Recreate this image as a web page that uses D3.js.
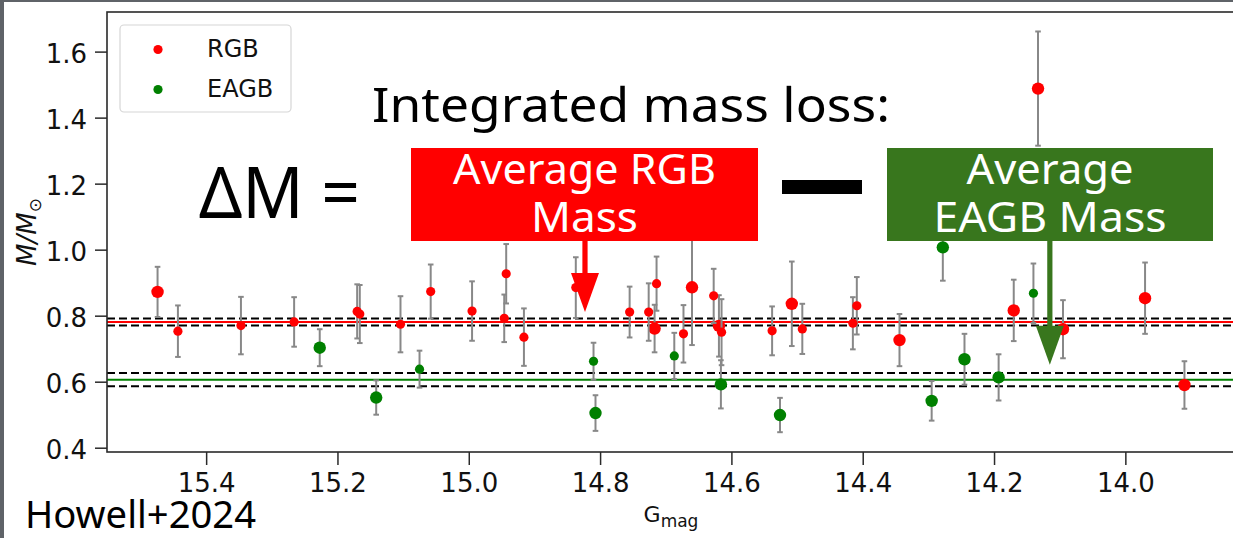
<!DOCTYPE html>
<html>
<head>
<meta charset="utf-8">
<script src="https://cdn.jsdelivr.net/npm/d3@7"></script>
<style>
  html, body { margin: 0; padding: 0; background: #fff; overflow: hidden; }
  svg { display: block; }
</style>
</head>
<body>
<svg id="chart" width="1233" height="538"></svg>
<script>
// ---- data: [G magnitude, mass (Msun), 1-sigma mass error] ----
// catalogue 1 (drawn with larger markers)
const rgbSet1 = [
  [15.474, 0.872, 0.076], [14.717, 0.761, 0.072], [14.660, 0.886, 0.175],
  [14.619, 0.769, 0.093], [14.508, 0.836, 0.128], [14.344, 0.726, 0.079],
  [14.170, 0.816, 0.093], [14.133, 1.488, 0.173], [14.095, 0.759, 0.088],
  [13.970, 0.853, 0.108], [13.910, 0.590, 0.072]
];
// catalogue 2 (drawn with smaller markers)
const rgbSet2 = [
  [15.443, 0.753, 0.078], [15.347, 0.770, 0.087], [15.266, 0.781, 0.075],
  [15.170, 0.813, 0.082], [15.166, 0.805, 0.088], [15.104, 0.774, 0.085],
  [15.058, 0.873, 0.082], [14.995, 0.814, 0.090], [14.946, 0.792, 0.072],
  [14.943, 0.927, 0.090], [14.916, 0.735, 0.087], [14.837, 0.885, 0.092],
  [14.755, 0.811, 0.077], [14.726, 0.811, 0.087], [14.714, 0.897, 0.082],
  [14.673, 0.745, 0.087], [14.627, 0.860, 0.082], [14.615, 0.750, 0.100],
  [14.538, 0.754, 0.074], [14.492, 0.760, 0.076], [14.415, 0.777, 0.079],
  [14.409, 0.830, 0.087]
];
const eagbSet1 = [
  [15.227, 0.703, 0.056], [15.141, 0.552, 0.052], [14.807, 0.505, 0.054],
  [14.616, 0.592, 0.073], [14.526, 0.499, 0.052], [14.295, 0.542, 0.060],
  [14.278, 1.007, 0.101], [14.245, 0.668, 0.077], [14.193, 0.613, 0.070]
];
const eagbSet2 = [
  [15.075, 0.638, 0.056], [14.810, 0.662, 0.056], [14.687, 0.678, 0.070],
  [14.140, 0.868, 0.090]
];

// weighted means and their uncertainties
const rgbMean = 0.781, rgbMeanErr = 0.0106;
const eagbMean = 0.606, eagbMeanErr = 0.020;

// axis ticks
const xTicks = [15.4, 15.2, 15.0, 14.8, 14.6, 14.4, 14.2, 14.0];
const yTicks = [0.4, 0.6, 0.8, 1.0, 1.2, 1.4, 1.6];
const legendLabels = ["RGB", "EAGB"];

// ---- layout ----
const W = 1233, H = 538;
const plot = { left: 107, right: 1235, top: 12, bottom: 452 };

const svg = d3.select("#chart");
svg.append("rect").attr("width", W).attr("height", H).attr("fill", "#fff");

const x = d3.scaleLinear().domain([15.551, 13.833]).range([plot.left, plot.right]);
const y = d3.scaleLinear().domain([0.387, 1.72]).range([plot.bottom, plot.top]);

const red = "#ff0000", green = "#008000";

// ---- mean lines with dashed uncertainty bands ----
const lines = svg.append("g");
function hline(v, color, dashed) {
  lines.append("line")
    .attr("x1", plot.left).attr("x2", plot.right)
    .attr("y1", y(v)).attr("y2", y(v))
    .attr("stroke", color).attr("stroke-width", 2)
    .attr("stroke-dasharray", dashed ? "8,4" : null);
}
hline(rgbMean, red, false);
hline(rgbMean + rgbMeanErr, "#000", true);
hline(rgbMean - rgbMeanErr, "#000", true);
hline(eagbMean, green, false);
hline(eagbMean + eagbMeanErr, "#000", true);
hline(eagbMean - eagbMeanErr, "#000", true);

// ---- error bars and points ----
const series = [
  { data: rgbSet1, color: red, r: 6.2 },
  { data: rgbSet2, color: red, r: 4.6 },
  { data: eagbSet1, color: green, r: 6.2 },
  { data: eagbSet2, color: green, r: 4.6 }
];
const pts = svg.append("g");
const capHalf = 2.8;
series.forEach(s => {
  const g = pts.append("g");
  const eb = g.selectAll("g.eb").data(s.data).join("g").attr("class", "eb")
    .attr("stroke", "#888").attr("stroke-width", 2);
  eb.append("line")
    .attr("x1", d => x(d[0])).attr("x2", d => x(d[0]))
    .attr("y1", d => y(d[1] - d[2])).attr("y2", d => y(d[1] + d[2]));
  eb.append("line")
    .attr("x1", d => x(d[0]) - capHalf).attr("x2", d => x(d[0]) + capHalf)
    .attr("y1", d => y(d[1] + d[2])).attr("y2", d => y(d[1] + d[2]));
  eb.append("line")
    .attr("x1", d => x(d[0]) - capHalf).attr("x2", d => x(d[0]) + capHalf)
    .attr("y1", d => y(d[1] - d[2])).attr("y2", d => y(d[1] - d[2]));
  g.selectAll("circle").data(s.data).join("circle")
    .attr("cx", d => x(d[0])).attr("cy", d => y(d[1]))
    .attr("r", s.r).attr("fill", s.color);
});

// ---- axes ----
const spineColor = "#2a2a2a";
const yAxis = d3.axisLeft(y).tickValues(yTicks).tickFormat(d3.format(".1f"))
  .tickSize(12).tickPadding(8);
const gY = svg.append("g").attr("transform", `translate(${plot.left},0)`).call(yAxis);
gY.select(".domain").remove();
gY.attr("font-family", "DejaVu Sans").attr("font-size", 26);
gY.selectAll(".tick line").attr("stroke", spineColor).attr("stroke-width", 1.5);
gY.selectAll(".tick text").attr("fill", "#111").attr("dy", "0.4em");

const xAxis = d3.axisBottom(x).tickValues(xTicks).tickFormat(d3.format(".1f"))
  .tickSize(13).tickPadding(8.5);
const gX = svg.append("g").attr("transform", `translate(0,${plot.bottom})`).call(xAxis);
gX.select(".domain").remove();
gX.attr("font-family", "DejaVu Sans").attr("font-size", 26);
gX.selectAll(".tick line").attr("stroke", spineColor).attr("stroke-width", 1.5);
gX.selectAll(".tick text").attr("fill", "#111");

// frame
svg.append("rect")
  .attr("x", plot.left).attr("y", plot.top)
  .attr("width", plot.right - plot.left).attr("height", plot.bottom - plot.top)
  .attr("fill", "none").attr("stroke", spineColor).attr("stroke-width", 1.6);

// axis titles
const yl = svg.append("text")
  .attr("transform", `translate(36,${(plot.top + plot.bottom) / 2}) rotate(-90)`)
  .attr("text-anchor", "middle")
  .attr("font-family", "DejaVu Sans").attr("font-size", 26).attr("fill", "#111");
yl.append("tspan").attr("font-style", "italic").text("M/M");
yl.append("tspan").attr("font-size", 17).attr("dy", 5).text("\u2299");

const xl = svg.append("text")
  .attr("x", (plot.left + plot.right) / 2).attr("y", 522)
  .attr("text-anchor", "middle")
  .attr("font-family", "DejaVu Sans").attr("font-size", 22).attr("fill", "#111");
xl.append("tspan").text("G");
xl.append("tspan").attr("font-size", 17).attr("dy", 5).text("mag");

// ---- legend ----
const leg = svg.append("g");
leg.append("rect").attr("x", 120).attr("y", 25).attr("width", 171).attr("height", 87)
  .attr("rx", 4).attr("fill", "#fff").attr("fill-opacity", 0.85)
  .attr("stroke", "#d6d6d6").attr("stroke-width", 1.2);
[red, green].forEach((c, i) => {
  leg.append("circle").attr("cx", 158).attr("cy", 49.5 + i * 40).attr("r", 4.6).attr("fill", c);
  leg.append("text").attr("x", 207).attr("y", 57 + i * 40)
    .attr("font-family", "DejaVu Sans").attr("font-size", 24).attr("fill", "#111")
    .text(legendLabels[i]);
});

// ---- slide annotations ----
const ann = svg.append("g").attr("font-family", "Noto Sans, Lato, sans-serif");
function fitText(parent, txt, xPos, yPos, size, len, fill, anchor) {
  return parent.append("text")
    .attr("x", xPos).attr("y", yPos)
    .attr("font-size", size).attr("fill", fill)
    .attr("text-anchor", anchor || "start")
    .attr("textLength", len).attr("lengthAdjust", "spacingAndGlyphs")
    .text(txt);
}
fitText(ann, "Integrated mass loss:", 372, 122, 47, 518, "#000");
fitText(ann, "\u0394M =", 199, 218, 72, 161, "#000");

// minus sign
ann.append("rect").attr("x", 782).attr("y", 180).attr("width", 80).attr("height", 14).attr("fill", "#000");

// arrows: shaft from the box down to a head pointing at the plotted level
function arrow(color, boxBottom, gx, gv) {
  const tipX = x(gx), tipY = y(gv);
  const headLen = 39, headHalf = 14, shaftHalf = 2.6;
  ann.append("rect")
    .attr("x", tipX - shaftHalf).attr("y", boxBottom - 1)
    .attr("width", shaftHalf * 2).attr("height", tipY - headLen - boxBottom + 2)
    .attr("fill", color);
  ann.append("path")
    .attr("d", `M${tipX - headHalf},${tipY - headLen}L${tipX + headHalf},${tipY - headLen}L${tipX},${tipY}Z`)
    .attr("fill", color);
}

// red box
ann.append("rect").attr("x", 411).attr("y", 148).attr("width", 347).attr("height", 93).attr("fill", red);
fitText(ann, "Average RGB", 584.5, 184, 42, 263, "#fff", "middle");
fitText(ann, "Mass", 584.5, 232, 42, 107, "#fff", "middle");
arrow(red, 241, 14.823, 0.811);

// green box
const dkGreen = "#38761d";
ann.append("rect").attr("x", 887).attr("y", 148).attr("width", 326).attr("height", 93).attr("fill", dkGreen);
fitText(ann, "Average", 1050, 184, 42, 167, "#fff", "middle");
fitText(ann, "EAGB Mass", 1050, 232, 42, 233, "#fff", "middle");
arrow(dkGreen, 241, 14.115, 0.651);

fitText(ann, "Howell+2024", 25, 528, 38, 231, "#000");

// slide frame edges
svg.append("rect").attr("x", 0).attr("y", 0).attr("width", 4).attr("height", H).attr("fill", "#5f6368");
svg.append("rect").attr("x", 0).attr("y", 0).attr("width", W).attr("height", 2).attr("fill", "#5f6368");
</script>
</body>
</html>
